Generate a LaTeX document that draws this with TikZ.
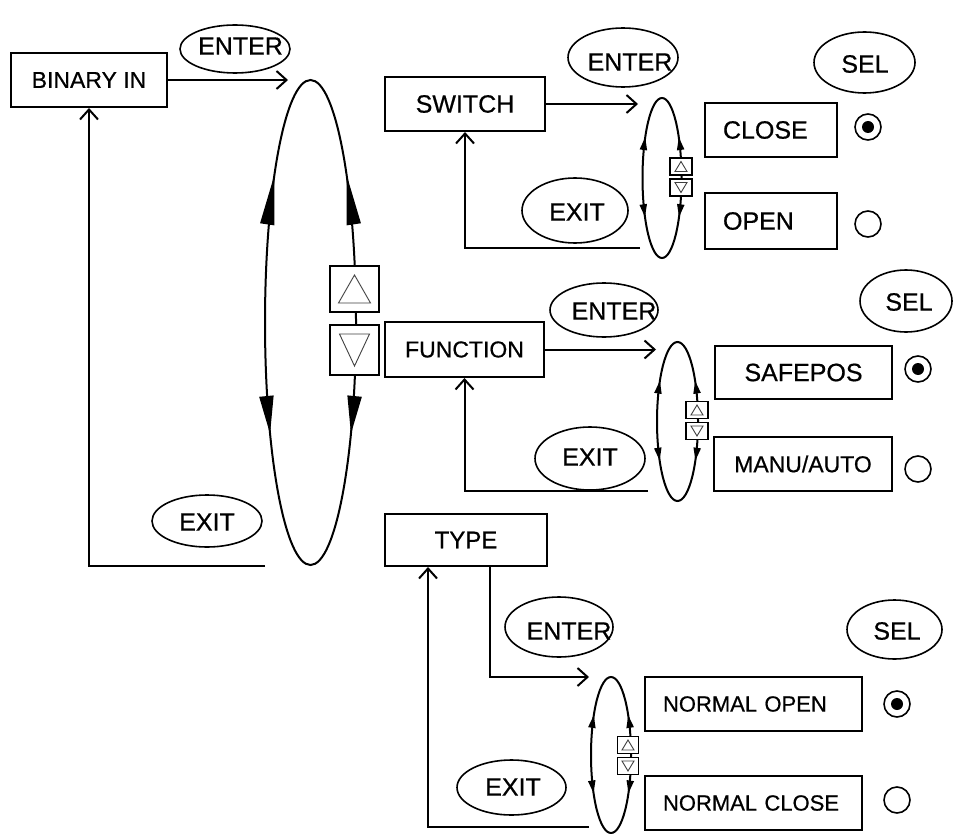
\documentclass[tikz,border=0pt]{standalone}
\usepackage{fontspec}
\setmainfont{Liberation Sans}[FakeBold=0.6]
\usetikzlibrary{shapes.geometric,arrows.meta,decorations.markings,calc}
\newcommand\fsz[1]{\fontsize{#1pt}{#1pt}\selectfont}
\newcommand\triup[3]{\draw[tri] ([shift={(0,-#2)}]#1.center) -- ([shift={(-#3,#2)}]#1.center) -- ([shift={(#3,#2)}]#1.center) -- cycle;}
\newcommand\tridown[3]{\draw[tri] ([shift={(0,#2)}]#1.center) -- ([shift={(-#3,-#2)}]#1.center) -- ([shift={(#3,-#2)}]#1.center) -- cycle;}
\begin{document}
\begin{tikzpicture}[x=1pt,y=-1pt,
  box/.style={draw, line width=2pt, inner sep=0pt, minimum height=54pt, font=\fsz{25}},
  lbox/.style={box, align=left, inner xsep=18pt},
  oval/.style={draw, ellipse, line width=1.6pt, inner sep=0pt},
  txt/.style={inner sep=0pt, font=\fsz{25}},
  conn/.style={line width=2pt, -{Straight Barb[length=10pt,width=18pt]}},
  cycnode/.style={ellipse, inner sep=0pt},
  cyc/.style={line width=2pt, postaction={decorate}},
  btn/.style={draw, fill=white, line width=1.6pt, inner sep=0pt},
  tri/.style={line width=0.9pt, black!75},
  radio/.style={draw, circle, line width=1.6pt, minimum size=26pt, inner sep=0pt},
  rdot/.style={fill, circle, minimum size=12pt, inner sep=0pt},
  bigmarks/.style={decoration={markings,
    mark=at position 0.146 with {\arrow{Triangle[length=50pt,width=14pt]}},
    mark=at position 0.354 with {\arrowreversed{Triangle[length=50pt,width=14pt]}},
    mark=at position 0.61 with {\arrow{Triangle[length=38pt,width=14pt]}},
    mark=at position 0.89 with {\arrowreversed{Triangle[length=38pt,width=14pt]}}}},
  smallmarks/.style={decoration={markings,
    mark=at position 0.12 with {\arrow{Triangle[length=13pt,width=7pt]}},
    mark=at position 0.38 with {\arrowreversed{Triangle[length=13pt,width=7pt]}},
    mark=at position 0.615 with {\arrow{Triangle[length=13pt,width=7pt]}},
    mark=at position 0.885 with {\arrowreversed{Triangle[length=13pt,width=7pt]}}}}
]
\useasboundingbox[fill=white] (0,0) rectangle (957,834);

% ---------- main level ----------
\node[box, minimum width=156pt, font=\fsz{23}] (binary) at (89,80) {BINARY IN};
\node[oval, minimum width=110pt, minimum height=48pt] (enter0) at (235,49) {};
\node[txt] (enter0t) at (240.5,46) {ENTER};
\node[oval, minimum width=110pt, minimum height=52pt] (exit0) at (207,521) {};
\node[txt] (exit0t) at (207,522) {EXIT};

\node[cycnode, minimum width=91pt, minimum height=485pt] (cyc0) at (310.5,322.5) {};
\draw[cyc, bigmarks] (cyc0.center) ellipse [x radius=45.5pt, y radius=242.5pt];
\node[btn, minimum width=49pt, minimum height=46pt] (bu) at (354.5,289) {};
\node[btn, minimum width=49pt, minimum height=50pt] (bd) at (354.5,350) {};
\triup{bu}{14}{16}
\tridown{bd}{16}{15}

\coordinate (c0in) at (288,80);
\coordinate (c0out) at (265,566);
\draw[conn] (binary.east) -- (c0in);
\draw[conn] (c0out) -| (binary.south);

% ---------- SWITCH ----------
\node[box, minimum width=160pt] (switch) at (465,104) {SWITCH};
\node[oval, minimum width=110pt, minimum height=59pt] (enter1) at (623,57.5) {};
\node[txt] (enter1t) at (630,62) {ENTER};
\node[oval, minimum width=106pt, minimum height=65pt] (exit1) at (575,210.5) {};
\node[txt] (exit1t) at (577,212) {EXIT};
\node[oval, minimum width=101pt, minimum height=61pt] (sel1) at (864.5,62.5) {};
\node[txt] (sel1t) at (865,64) {SEL};

\node[cycnode, minimum width=39pt, minimum height=160pt] (cyc1) at (662,178) {};
\draw[cyc, smallmarks] (cyc1.center) ellipse [x radius=19.5pt, y radius=80pt];
\node[btn, minimum width=22pt, minimum height=17pt] (s1u) at (681,166.5) {};
\node[btn, minimum width=22pt, minimum height=17pt] (s1d) at (681,187.5) {};
\triup{s1u}{5}{6}
\tridown{s1d}{5}{6}

\node[lbox, text width=96pt, minimum width=132pt] (close) at (771,130) {CLOSE};
\node[lbox, text width=96pt, minimum width=132pt, minimum height=56pt] (open) at (771,221) {OPEN};
\node[radio] (r1a) at (868,127) {};
\node[rdot] (r1ad) at (r1a) {};
\node[radio] (r1b) at (868,224) {};

\coordinate (c1in) at (638,104);
\coordinate (c1out) at (640,248);
\draw[conn] (switch.east) -- (c1in);
\draw[conn] (c1out) -| (switch.south);

% ---------- FUNCTION ----------
\node[box, minimum width=159pt, minimum height=55pt, font=\fsz{23}] (function) at (464.5,349.5) {FUNCTION};
\node[oval, minimum width=108pt, minimum height=54pt] (enter2) at (604,310) {};
\node[txt] (enter2t) at (614,311) {ENTER};
\node[oval, minimum width=110pt, minimum height=63pt] (exit2) at (590,458.5) {};
\node[txt] (exit2t) at (590,457) {EXIT};
\node[oval, minimum width=92pt, minimum height=62pt] (sel2) at (906,301) {};
\node[txt] (sel2t) at (909,302) {SEL};

\node[cycnode, minimum width=41pt, minimum height=159pt] (cyc2) at (677.5,421.5) {};
\draw[cyc, smallmarks] (cyc2.center) ellipse [x radius=20.5pt, y radius=79.5pt];
\node[btn, minimum width=22pt, minimum height=17pt] (s2u) at (697,410) {};
\node[btn, minimum width=22pt, minimum height=17pt] (s2d) at (697,431) {};
\triup{s2u}{5}{6}
\tridown{s2d}{5}{6}

\node[box, minimum width=177pt, minimum height=53pt] (safepos) at (803.5,372.5) {SAFEPOS};
\node[box, minimum width=178pt, font=\fsz{23}] (manu) at (803,464) {MANU/AUTO};
\node[radio] (r2a) at (918,369) {};
\node[rdot] (r2ad) at (r2a) {};
\node[radio] (r2b) at (918,469) {};

\coordinate (c2in) at (656,349.5);
\coordinate (c2out) at (648,491);
\draw[conn] (function.east) -- (c2in);
\draw[conn] (c2out) -| (function.south);

% ---------- TYPE ----------
\node[box, minimum width=162pt, minimum height=52pt, font=\fsz{24}] (type) at (466,540) {TYPE};
\node[oval, minimum width=108pt, minimum height=60pt] (enter3) at (559,627) {};
\node[txt] (enter3t) at (569,631) {ENTER};
\node[oval, minimum width=109pt, minimum height=55pt] (exit3) at (511.5,787.5) {};
\node[txt] (exit3t) at (513,787) {EXIT};
\node[oval, minimum width=95pt, minimum height=59pt] (sel3) at (894.5,629.5) {};
\node[txt] (sel3t) at (897,631) {SEL};

\node[cycnode, minimum width=40pt, minimum height=156pt] (cyc3) at (611,755) {};
\draw[cyc, smallmarks] (cyc3.center) ellipse [x radius=20pt, y radius=78pt];
\node[btn, minimum width=21pt, minimum height=17pt] (s3u) at (628,745) {};
\node[btn, minimum width=21pt, minimum height=17pt] (s3d) at (628,766) {};
\triup{s3u}{5}{6}
\tridown{s3d}{5}{6}

\node[lbox, text width=181pt, minimum width=217pt, font=\fsz{22}] (nopen) at (753.5,704) {NORMAL OPEN};
\node[lbox, text width=181pt, minimum width=217pt, font=\fsz{22}] (nclose) at (753.5,803) {NORMAL CLOSE};
\node[radio] (r3a) at (897,704) {};
\node[rdot] (r3ad) at (r3a) {};
\node[radio] (r3b) at (897,800) {};

\coordinate (c3in) at (589,677);
\coordinate (c3out) at (589,827);
\draw[conn] ([xshift=24pt]type.south) |- (c3in);
\draw[conn] (c3out) -| ([xshift=-38pt]type.south);
\end{tikzpicture}
\end{document}
